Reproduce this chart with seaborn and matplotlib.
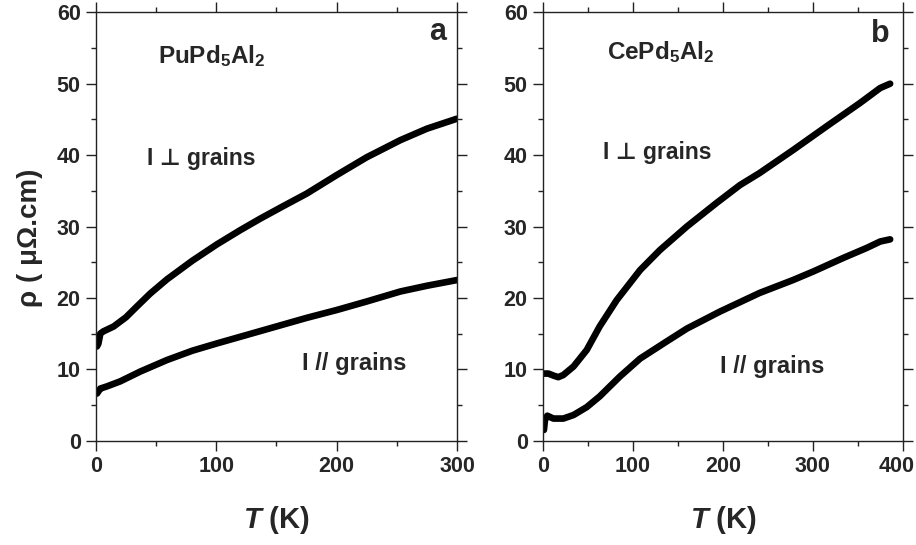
import numpy as np
import pandas as pd
import matplotlib
matplotlib.use("Agg")
import matplotlib.pyplot as plt
import matplotlib.transforms as mtransforms
import seaborn as sns
from matplotlib.ticker import MultipleLocator

# ---------------- data ----------------
pu_perp_T = [0.8, 2.0, 3.6, 6, 14.7, 25, 34, 45, 59, 80, 100.5, 120, 136.5, 155, 175, 200, 225, 253, 275, 300]
pu_perp_r = [13.2, 13.6, 15.0, 15.3, 16.0, 17.3, 18.8, 20.6, 22.6, 25.2, 27.5, 29.5, 31.1, 32.8, 34.6, 37.2, 39.7, 42.1, 43.7, 45.1]

pu_par_T = [0.8, 2.0, 3.6, 9, 20, 37, 59, 80, 100, 125, 150, 175, 200, 225, 253, 275, 300]
pu_par_r = [6.6, 6.9, 7.3, 7.6, 8.3, 9.7, 11.3, 12.6, 13.6, 14.8, 16.0, 17.2, 18.3, 19.5, 20.9, 21.7, 22.5]

ce_perp_T = [1, 6, 12, 17, 22.6, 34, 48.6, 63, 82, 108, 130, 160, 193, 219, 241, 278, 315, 352.5, 375, 386]
ce_perp_r = [9.4, 9.4, 9.1, 8.9, 9.2, 10.4, 12.7, 16.0, 19.7, 23.9, 26.7, 30.0, 33.3, 35.8, 37.5, 40.7, 44.0, 47.3, 49.4, 50.0]

ce_par_T = [1, 2.2, 4.8, 11.5, 22.6, 34, 48.6, 63, 85.6, 108, 137.5, 160, 197, 241, 278, 300.6, 334, 360, 375, 386]
ce_par_r = [1.5, 2.9, 3.5, 3.1, 3.1, 3.6, 4.7, 6.2, 9.0, 11.5, 13.9, 15.7, 18.1, 20.7, 22.5, 23.7, 25.6, 27.0, 27.9, 28.2]

y_ticks = [0, 10, 20, 30, 40, 50, 60]
xticks_a = [0, 100, 200, 300]
xticks_b = [0, 100, 200, 300, 400]

# ---------------- style ----------------
sns.set_style("ticks")
plt.rcParams['font.family'] = ['Liberation Sans', 'DejaVu Sans']
plt.rcParams['font.weight'] = 'bold'
plt.rcParams['mathtext.fontset'] = 'custom'
plt.rcParams['mathtext.rm'] = 'Liberation Sans:bold'
plt.rcParams['mathtext.bf'] = 'Liberation Sans:bold'
plt.rcParams['mathtext.it'] = 'Liberation Sans:bold:italic'

fig = plt.figure(figsize=(9.16, 5.45), dpi=100)
axa = fig.add_axes([0.1048, 0.1914, 0.3941, 0.7860])
axb = fig.add_axes([0.5928, 0.1914, 0.3927, 0.7860])

def curve(ax, T, r):
    df = pd.DataFrame({"T": T, "rho": r})
    sns.lineplot(data=df, x="T", y="rho", ax=ax, color="black", lw=4.8,
                 solid_capstyle="round", solid_joinstyle="round", sort=False)

curve(axa, pu_perp_T, pu_perp_r)
curve(axa, pu_par_T, pu_par_r)
curve(axb, ce_perp_T, ce_perp_r)
curve(axb, ce_par_T, ce_par_r)

for ax, xt, xmax in [(axa, xticks_a, 300), (axb, xticks_b, 400)]:
    ax.set_xlim(0, xmax)
    ax.set_ylim(0, 60)
    ax.set_xticks(xt)
    ax.set_yticks(y_ticks)
    ax.xaxis.set_minor_locator(MultipleLocator(50))
    ax.yaxis.set_minor_locator(MultipleLocator(5))
    ax.set_xlabel("")
    ax.set_ylabel("")
    for s in ax.spines.values():
        s.set_visible(True)
        s.set_linewidth(1.0)
        s.set_color("#222222")
    ax.tick_params(which="major", direction="out", length=7, width=1.0,
                   labelsize=15.5, top=True, right=True, pad=4, color="#222222")
    ax.tick_params(which="minor", direction="out", length=3.5, width=1.0,
                   top=True, right=True, color="#222222")
    for lab in ax.get_xticklabels() + ax.get_yticklabels():
        lab.set_fontweight("bold")

# keep the last x tick label of panel b inside the figure (as in reference)
fig.canvas.draw()
last = axb.get_xticklabels()[-1]
last.set_transform(last.get_transform() +
                   mtransforms.ScaledTranslation(-6 / 100, 0, fig.dpi_scale_trans))

# panel a texts
axa.text(283.6, 57.2, "a", fontsize=22, fontweight="bold", ha="center", va="center")
axa.text(51.8, 52.9, r"PuPd$_{5}$Al$_{2}$", fontsize=17.5, fontweight="bold", ha="left", va="baseline")
axa.text(42.6, 38.6, "I \u22a5 grains", fontsize=16.5, fontweight="bold", ha="left", va="baseline")
axa.text(171.5, 9.9, "I // grains", fontsize=17, fontweight="bold", ha="left", va="baseline")

# panel b texts
axb.text(375.5, 57.0, "b", fontsize=22, fontweight="bold", ha="center", va="center")
axb.text(70.7, 53.5, r"CePd$_{5}$Al$_{2}$", fontsize=17.5, fontweight="bold", ha="left", va="baseline")
axb.text(66.7, 39.4, "I \u22a5 grains", fontsize=16.5, fontweight="bold", ha="left", va="baseline")
axb.text(197, 9.5, "I // grains", fontsize=17, fontweight="bold", ha="left", va="baseline")

# axis labels
fig.text(30 / 916, 1 - 238 / 545, "\u03c1 ( \u03bc\u03a9.cm)", rotation=90, fontsize=20,
         fontweight="bold", ha="center", va="center")
fig.text((96 + 457) / 2 / 916, 1 - 520 / 545, r"$T$ (K)", fontsize=21, fontweight="bold",
         ha="center", va="center")
fig.text((543 + 903) / 2 / 916, 1 - 520 / 545, r"$T$ (K)", fontsize=21, fontweight="bold",
         ha="center", va="center")

fig.savefig("out.png", dpi=100)
